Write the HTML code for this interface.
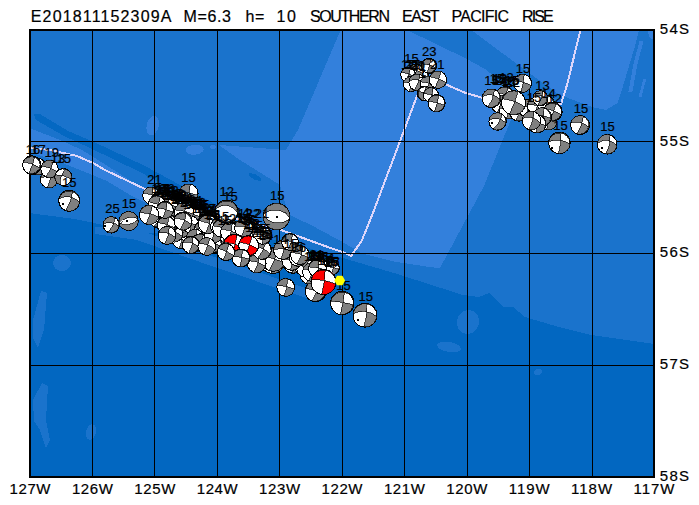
<!DOCTYPE html>
<html><head><meta charset="utf-8"><title>E201811152309A</title>
<style>html,body{margin:0;padding:0;background:#fff;}svg{display:block;}text{font-family:"Liberation Sans", sans-serif;fill:#000;stroke:#000;stroke-width:0.2px;}</style></head>
<body>
<svg width="699" height="505" viewBox="0 0 699 505">
<rect width="699" height="505" fill="#fff"/>
<defs><clipPath id="m"><rect x="29" y="29" width="626" height="449"/></clipPath></defs>
<g clip-path="url(#m)" shape-rendering="crispEdges">
<rect x="29" y="29" width="626" height="449" fill="#1a73cc"/>
<polygon fill="#3380dc" points="341,29 405,29 467,59 485,69 505,85 512,117 484,186 462,227 440,268 431.6,267.3 394.5,261.6 362.7,253.8 341.3,241.3 314.6,227 289.6,214.6 284,200 280,185 240,160 219,145 286,150 298,130"/>
<polygon fill="#3380dc" points="470,29 529,73 560,95 592,107 606,110 617.6,103 622.6,87.4 628.5,67.6 634.5,47.8 639.4,29"/>
<polygon fill="#3380dc" points="639.5,41 643.5,41 637.5,64 632.5,91.5 628.5,91.5 633.5,64"/>
<polygon fill="#3380dc" points="643.5,78.5 646.3,78.5 641.4,97.3 638.4,97.3"/>
<polygon fill="#3380dc" points="647,29 655,29 655,40 650,38"/>
<polygon fill="#3380dc" points="29,128 59,139.5 82,150 106,165 131,181 152,193 150,205 130,195 107,181 85,172 60,162 29,152"/>
<polygon fill="#0468c2" points="34,114 40,114 68,131 94,142 145,166 217,205 205,207 140,172 90,148 64,136 36,120"/>
<polygon fill="#0267c1" points="29,213 75,219 137,232 200,236 280,240 343,258 394,273 463,295 479,297 489,293 503,307 513,307 525,317 559,327 591,335 655,344 655,478 29,478"/>
<polygon fill="#1a73cc" points="95,227 137,229 200,252 305,288 312,300 200,262 137,240 95,234"/>
<ellipse cx="152.7" cy="125.6" rx="6" ry="10" fill="#3380dc" transform="rotate(15 152.7 125.6)"/>
<ellipse cx="194.7" cy="149.7" rx="9" ry="5" fill="#3380dc" transform="rotate(-5 194.7 149.7)"/>
<ellipse cx="213" cy="147" rx="3" ry="2" fill="#3380dc" transform="rotate(0 213 147)"/>
<ellipse cx="255" cy="177" rx="7" ry="2.5" fill="#0468c2" transform="rotate(25 255 177)"/>
<ellipse cx="62" cy="263" rx="9" ry="8" fill="#1a73cc" transform="rotate(0 62 263)"/>
<polygon fill="#1a73cc" points="41,291 47,293 44,330 38,348 33,338 33,320"/>
<polygon fill="#1a73cc" points="42,383 48,386 46,420 50,440 46,448 40,430 34,421 33,400"/>
<ellipse cx="468" cy="322" rx="11" ry="12" fill="#1a73cc" transform="rotate(20 468 322)"/>
<ellipse cx="449" cy="347" rx="12" ry="5" fill="#1a73cc" transform="rotate(10 449 347)"/>
<ellipse cx="466" cy="278" rx="2.5" ry="5" fill="#1a73cc" transform="rotate(15 466 278)"/>
<ellipse cx="538" cy="372" rx="4" ry="3" fill="#1a73cc" transform="rotate(-20 538 372)"/>
<ellipse cx="91" cy="432" rx="5" ry="8" fill="#1a73cc" transform="rotate(15 91 432)"/>
</g>
<g clip-path="url(#m)" fill="none" stroke="#ddd6fa" stroke-width="2" stroke-linejoin="round" shape-rendering="crispEdges">
<polyline points="29,148 50,150 77,156 94,163.5 105,170 128,181 145,189 200,210 280,229.5 291,233.7 305,238.7 325,246 345,253 351,256 361.6,241 372,215.5 417,96 440,82 446,84.5 465,92.8 490,100 561,104 567,85 580.5,30"/>
</g>
<g fill="#000" shape-rendering="crispEdges">
<rect x="92" y="30" width="1" height="447"/><rect x="154" y="30" width="1" height="447"/><rect x="217" y="30" width="1" height="447"/><rect x="279" y="30" width="1" height="447"/><rect x="342" y="30" width="1" height="447"/><rect x="404" y="30" width="1" height="447"/><rect x="467" y="30" width="1" height="447"/><rect x="529" y="30" width="1" height="447"/><rect x="592" y="30" width="1" height="447"/><rect x="30" y="141" width="624" height="1"/><rect x="30" y="253" width="624" height="1"/><rect x="30" y="365" width="624" height="1"/>
</g>
<rect x="30" y="30" width="624" height="447" fill="none" stroke="#000" stroke-width="2" shape-rendering="crispEdges"/>
<g shape-rendering="crispEdges">
<circle cx="37" cy="166.5" r="8.6" fill="#fff" stroke="#000"/><path d="M38.4 158A34.7 34.7 0 0 1 35.6 175A8.6 8.6 0 0 0 38.4 158M28.5 165.2A38.1 38.1 0 0 1 45.5 167.8A8.6 8.6 0 0 0 28.5 165.2" fill="#808080" fill-rule="evenodd" stroke="#000" stroke-width="0.7"/>
<circle cx="31.8" cy="165" r="9.2" fill="#fff" stroke="#000"/><path d="M34.9 156.4A74.9 74.9 0 0 1 28.7 173.6A9.2 9.2 0 0 0 34.9 156.4M23.2 161.9A37.9 37.9 0 0 1 40.4 168.1A9.2 9.2 0 0 0 23.2 161.9" fill="#808080" fill-rule="evenodd" stroke="#000" stroke-width="0.7"/>
<circle cx="49" cy="179.4" r="8.6" fill="#fff" stroke="#000"/><path d="M50.5 170.9A35.4 35.4 0 0 1 47.5 187.9A8.6 8.6 0 0 0 50.5 170.9M40.5 177.9A13.3 13.3 0 0 1 57.5 180.9A8.6 8.6 0 0 0 40.5 177.9" fill="#808080" fill-rule="evenodd" stroke="#000" stroke-width="0.7"/>
<circle cx="49.5" cy="169" r="8.7" fill="#fff" stroke="#000"/><path d="M53.2 161.1A35.8 35.8 0 0 1 45.8 176.9A8.7 8.7 0 0 0 53.2 161.1M41.3 166A35.8 35.8 0 0 1 57.7 172A8.7 8.7 0 0 0 41.3 166" fill="#808080" fill-rule="evenodd" stroke="#000" stroke-width="0.7"/>
<circle cx="63.3" cy="177" r="8.5" fill="#fff" stroke="#000"/><path d="M60.4 185A18.3 18.3 0 0 1 66.2 169A8.5 8.5 0 0 0 60.4 185M55.1 174.8A35 35 0 0 1 71.5 179.2A8.5 8.5 0 0 0 55.1 174.8" fill="#808080" fill-rule="evenodd" stroke="#000" stroke-width="0.7"/>
<circle cx="69.2" cy="200.7" r="10.5" fill="#fff" stroke="#000"/><path d="M72.8 190.8A43.2 43.2 0 0 1 65.6 210.6A10.5 10.5 0 0 0 72.8 190.8M58.9 198.9A16.3 16.3 0 0 1 79.5 202.5A10.5 10.5 0 0 0 58.9 198.9" fill="#808080" fill-rule="evenodd" stroke="#000" stroke-width="0.7"/><rect x="61.6" y="203.3" width="2" height="2" fill="#000"/>
<circle cx="111.3" cy="224.9" r="8.2" fill="#fff" stroke="#000"/><path d="M114.8 217.5A23 23 0 0 1 107.8 232.3A8.2 8.2 0 0 0 114.8 217.5M103.2 223.5A17.7 17.7 0 0 1 119.4 226.3A8.2 8.2 0 0 0 103.2 223.5" fill="#808080" fill-rule="evenodd" stroke="#000" stroke-width="0.7"/><rect x="104.3" y="225.4" width="2" height="2" fill="#000"/>
<circle cx="128.7" cy="221" r="9.5" fill="#fff" stroke="#000"/><path d="M137.9 218.5A14.7 14.7 0 0 1 119.5 223.5A9.5 9.5 0 0 0 137.9 218.5M119.5 223.5A15.5 15.5 0 0 1 137.9 218.5A9.5 9.5 0 0 0 119.5 223.5" fill="#808080" fill-rule="evenodd" stroke="#000" stroke-width="0.7"/><rect x="126.2" y="220" width="2" height="2" fill="#000"/>
<circle cx="206.7" cy="236.7" r="9" fill="#fff" stroke="#000"/><path d="M209.3 228.1A41.2 41.2 0 0 1 204.2 245.3A9 9 0 0 0 209.3 228.1M197.9 235.1A44.9 44.9 0 0 1 215.6 238.4A9 9 0 0 0 197.9 235.1" fill="#808080" fill-rule="evenodd" stroke="#000" stroke-width="0.7"/>
<circle cx="200" cy="220" r="9.5" fill="#fff" stroke="#000"/><path d="M201.4 210.6A46.1 46.1 0 0 1 198.6 229.4A9.5 9.5 0 0 0 201.4 210.6M190.7 218A36.8 36.8 0 0 1 209.3 222A9.5 9.5 0 0 0 190.7 218" fill="#808080" fill-rule="evenodd" stroke="#000" stroke-width="0.7"/>
<circle cx="163" cy="211" r="9" fill="#fff" stroke="#000"/><path d="M166.7 202.8A45.8 45.8 0 0 1 159.3 219.2A9 9 0 0 0 166.7 202.8M154.6 207.8A64.7 64.7 0 0 1 171.4 214.2A9 9 0 0 0 154.6 207.8" fill="#808080" fill-rule="evenodd" stroke="#000" stroke-width="0.7"/>
<circle cx="199" cy="243" r="9" fill="#fff" stroke="#000"/><path d="M200.7 234.2A71.9 71.9 0 0 1 197.3 251.8A9 9 0 0 0 200.7 234.2M190.2 241.1A56.8 56.8 0 0 1 207.8 244.9A9 9 0 0 0 190.2 241.1" fill="#808080" fill-rule="evenodd" stroke="#000" stroke-width="0.7"/>
<circle cx="198" cy="236" r="9.5" fill="#fff" stroke="#000"/><path d="M199.4 226.6A42.1 42.1 0 0 1 196.6 245.4A9.5 9.5 0 0 0 199.4 226.6M188.7 234A51.5 51.5 0 0 1 207.3 238A9.5 9.5 0 0 0 188.7 234" fill="#808080" fill-rule="evenodd" stroke="#000" stroke-width="0.7"/>
<circle cx="178" cy="228" r="9.5" fill="#fff" stroke="#000"/><path d="M180 218.7A31.3 31.3 0 0 1 176 237.3A9.5 9.5 0 0 0 180 218.7M168.7 226.3A35.9 35.9 0 0 1 187.3 229.7A9.5 9.5 0 0 0 168.7 226.3" fill="#808080" fill-rule="evenodd" stroke="#000" stroke-width="0.7"/>
<circle cx="176" cy="209" r="9.5" fill="#fff" stroke="#000"/><path d="M178.8 199.9A31.3 31.3 0 0 1 173.2 218.1A9.5 9.5 0 0 0 178.8 199.9M166.9 206.4A41.2 41.2 0 0 1 185.1 211.6A9.5 9.5 0 0 0 166.9 206.4" fill="#808080" fill-rule="evenodd" stroke="#000" stroke-width="0.7"/>
<circle cx="193" cy="226" r="9" fill="#fff" stroke="#000"/><path d="M195 217.2A41.7 41.7 0 0 1 191 234.8A9 9 0 0 0 195 217.2M184.2 224A56.3 56.3 0 0 1 201.8 228A9 9 0 0 0 184.2 224" fill="#808080" fill-rule="evenodd" stroke="#000" stroke-width="0.7"/>
<circle cx="187.4" cy="234.9" r="9" fill="#fff" stroke="#000"/><path d="M190.8 226.6A62.4 62.4 0 0 1 184 243.2A9 9 0 0 0 190.8 226.6M179.1 231.3A63 63 0 0 1 195.6 238.5A9 9 0 0 0 179.1 231.3" fill="#808080" fill-rule="evenodd" stroke="#000" stroke-width="0.7"/>
<circle cx="182" cy="238" r="9" fill="#fff" stroke="#000"/><path d="M184.5 229.4A29.7 29.7 0 0 1 179.5 246.6A9 9 0 0 0 184.5 229.4M173.4 235.4A65.9 65.9 0 0 1 190.6 240.6A9 9 0 0 0 173.4 235.4" fill="#808080" fill-rule="evenodd" stroke="#000" stroke-width="0.7"/>
<circle cx="180.8" cy="240" r="8.5" fill="#fff" stroke="#000"/><path d="M182.2 231.6A34.8 34.8 0 0 1 179.4 248.4A8.5 8.5 0 0 0 182.2 231.6M172.6 237.9A35.6 35.6 0 0 1 189 242A8.5 8.5 0 0 0 172.6 237.9" fill="#808080" fill-rule="evenodd" stroke="#000" stroke-width="0.7"/>
<circle cx="151.2" cy="195.6" r="8.5" fill="#fff" stroke="#000"/><path d="M152.9 187.3A39.2 39.2 0 0 1 149.5 203.9A8.5 8.5 0 0 0 152.9 187.3M143.1 192.9A39.4 39.4 0 0 1 159.3 198.3A8.5 8.5 0 0 0 143.1 192.9" fill="#808080" fill-rule="evenodd" stroke="#000" stroke-width="0.7"/>
<circle cx="192" cy="216" r="9.5" fill="#fff" stroke="#000"/><path d="M193.5 206.6A35.7 35.7 0 0 1 190.5 225.4A9.5 9.5 0 0 0 193.5 206.6M182.8 213.7A44.2 44.2 0 0 1 201.2 218.3A9.5 9.5 0 0 0 182.8 213.7" fill="#808080" fill-rule="evenodd" stroke="#000" stroke-width="0.7"/>
<circle cx="201.2" cy="231.4" r="8.5" fill="#fff" stroke="#000"/><path d="M203.9 223.3A52.2 52.2 0 0 1 198.6 239.5A8.5 8.5 0 0 0 203.9 223.3M193.3 228.3A44.1 44.1 0 0 1 209.1 234.5A8.5 8.5 0 0 0 193.3 228.3" fill="#808080" fill-rule="evenodd" stroke="#000" stroke-width="0.7"/>
<circle cx="173" cy="216" r="9" fill="#fff" stroke="#000"/><path d="M176.3 207.6A33.6 33.6 0 0 1 169.7 224.4A9 9 0 0 0 176.3 207.6M164.4 213.5A36.6 36.6 0 0 1 181.6 218.5A9 9 0 0 0 164.4 213.5" fill="#808080" fill-rule="evenodd" stroke="#000" stroke-width="0.7"/>
<circle cx="188" cy="232" r="9.5" fill="#fff" stroke="#000"/><path d="M189.8 222.7A42.7 42.7 0 0 1 186.2 241.3A9.5 9.5 0 0 0 189.8 222.7M178.7 230.1A49.6 49.6 0 0 1 197.3 233.9A9.5 9.5 0 0 0 178.7 230.1" fill="#808080" fill-rule="evenodd" stroke="#000" stroke-width="0.7"/>
<circle cx="213.5" cy="228.1" r="9" fill="#fff" stroke="#000"/><path d="M215.2 219.3A41 41 0 0 1 211.8 237A9 9 0 0 0 215.2 219.3M204.7 226.3A37.4 37.4 0 0 1 222.4 229.9A9 9 0 0 0 204.7 226.3" fill="#808080" fill-rule="evenodd" stroke="#000" stroke-width="0.7"/>
<circle cx="200" cy="218.2" r="9" fill="#fff" stroke="#000"/><path d="M203.4 209.8A56 56 0 0 1 196.7 226.6A9 9 0 0 0 203.4 209.8M191.5 215.5A44.9 44.9 0 0 1 208.6 220.9A9 9 0 0 0 191.5 215.5" fill="#808080" fill-rule="evenodd" stroke="#000" stroke-width="0.7"/>
<circle cx="182.2" cy="221.7" r="8.5" fill="#fff" stroke="#000"/><path d="M184.8 213.6A39 39 0 0 1 179.7 229.8A8.5 8.5 0 0 0 184.8 213.6M174.3 218.6A27.4 27.4 0 0 1 190.1 224.9A8.5 8.5 0 0 0 174.3 218.6" fill="#808080" fill-rule="evenodd" stroke="#000" stroke-width="0.7"/>
<circle cx="160" cy="201" r="9" fill="#fff" stroke="#000"/><path d="M163 192.5A56.1 56.1 0 0 1 157 209.5A9 9 0 0 0 163 192.5M151.6 197.9A47.5 47.5 0 0 1 168.4 204.1A9 9 0 0 0 151.6 197.9" fill="#808080" fill-rule="evenodd" stroke="#000" stroke-width="0.7"/>
<circle cx="207.6" cy="222.3" r="9" fill="#fff" stroke="#000"/><path d="M210.9 214A47.2 47.2 0 0 1 204.3 230.7A9 9 0 0 0 210.9 214M199.4 218.7A64.9 64.9 0 0 1 215.8 226A9 9 0 0 0 199.4 218.7" fill="#808080" fill-rule="evenodd" stroke="#000" stroke-width="0.7"/>
<circle cx="180.7" cy="228.9" r="9" fill="#fff" stroke="#000"/><path d="M182 220A47.8 47.8 0 0 1 179.4 237.8A9 9 0 0 0 182 220M171.8 227.6A29.1 29.1 0 0 1 189.6 230.2A9 9 0 0 0 171.8 227.6" fill="#808080" fill-rule="evenodd" stroke="#000" stroke-width="0.7"/>
<circle cx="174.5" cy="233.3" r="8.5" fill="#fff" stroke="#000"/><path d="M176.4 225A28.8 28.8 0 0 1 172.6 241.6A8.5 8.5 0 0 0 176.4 225M166.3 231A34.5 34.5 0 0 1 182.7 235.5A8.5 8.5 0 0 0 166.3 231" fill="#808080" fill-rule="evenodd" stroke="#000" stroke-width="0.7"/>
<circle cx="218" cy="240" r="9.5" fill="#fff" stroke="#000"/><path d="M220.8 230.9A48 48 0 0 1 215.2 249.1A9.5 9.5 0 0 0 220.8 230.9M209.2 236.4A58.8 58.8 0 0 1 226.8 243.6A9.5 9.5 0 0 0 209.2 236.4" fill="#808080" fill-rule="evenodd" stroke="#000" stroke-width="0.7"/>
<circle cx="216" cy="228" r="9.5" fill="#fff" stroke="#000"/><path d="M219.4 219.1A38.8 38.8 0 0 1 212.6 236.9A9.5 9.5 0 0 0 219.4 219.1M207 225.1A31.4 31.4 0 0 1 225 230.9A9.5 9.5 0 0 0 207 225.1" fill="#808080" fill-rule="evenodd" stroke="#000" stroke-width="0.7"/>
<circle cx="191.2" cy="214.3" r="9" fill="#fff" stroke="#000"/><path d="M194 205.7A34 34 0 0 1 188.4 222.8A9 9 0 0 0 194 205.7M182.5 211.9A58.5 58.5 0 0 1 199.9 216.7A9 9 0 0 0 182.5 211.9" fill="#808080" fill-rule="evenodd" stroke="#000" stroke-width="0.7"/>
<circle cx="213.4" cy="244.6" r="8.5" fill="#fff" stroke="#000"/><path d="M216.2 236.6A36 36 0 0 1 210.7 252.7A8.5 8.5 0 0 0 216.2 236.6M205.6 241.4A34.2 34.2 0 0 1 221.3 247.9A8.5 8.5 0 0 0 205.6 241.4" fill="#808080" fill-rule="evenodd" stroke="#000" stroke-width="0.7"/>
<circle cx="215.7" cy="239.5" r="9" fill="#fff" stroke="#000"/><path d="M218.4 231A42 42 0 0 1 213 248.1A9 9 0 0 0 218.4 231M207.3 236.4A58.7 58.7 0 0 1 224.1 242.7A9 9 0 0 0 207.3 236.4" fill="#808080" fill-rule="evenodd" stroke="#000" stroke-width="0.7"/>
<circle cx="208" cy="238" r="9.5" fill="#fff" stroke="#000"/><path d="M210 228.7A34.5 34.5 0 0 1 206 247.3A9.5 9.5 0 0 0 210 228.7M198.9 235.1A66.5 66.5 0 0 1 217.1 240.9A9.5 9.5 0 0 0 198.9 235.1" fill="#808080" fill-rule="evenodd" stroke="#000" stroke-width="0.7"/>
<circle cx="213" cy="244" r="9" fill="#fff" stroke="#000"/><path d="M215.5 235.4A29.1 29.1 0 0 1 210.5 252.6A9 9 0 0 0 215.5 235.4M204.4 241.4A31.1 31.1 0 0 1 221.6 246.6A9 9 0 0 0 204.4 241.4" fill="#808080" fill-rule="evenodd" stroke="#000" stroke-width="0.7"/>
<circle cx="159.3" cy="206.6" r="8.5" fill="#fff" stroke="#000"/><path d="M160 198.2A38.7 38.7 0 0 1 158.5 215.1A8.5 8.5 0 0 0 160 198.2M150.9 205.2A45.7 45.7 0 0 1 167.6 208.1A8.5 8.5 0 0 0 150.9 205.2" fill="#808080" fill-rule="evenodd" stroke="#000" stroke-width="0.7"/>
<circle cx="173.5" cy="217.2" r="8.5" fill="#fff" stroke="#000"/><path d="M176.2 209.1A63.1 63.1 0 0 1 170.8 225.3A8.5 8.5 0 0 0 176.2 209.1M165.4 214.6A29 29 0 0 1 181.6 219.8A8.5 8.5 0 0 0 165.4 214.6" fill="#808080" fill-rule="evenodd" stroke="#000" stroke-width="0.7"/>
<circle cx="174" cy="233" r="9" fill="#fff" stroke="#000"/><path d="M177.1 224.5A40.5 40.5 0 0 1 170.9 241.5A9 9 0 0 0 177.1 224.5M165.6 229.9A31 31 0 0 1 182.4 236.1A9 9 0 0 0 165.6 229.9" fill="#808080" fill-rule="evenodd" stroke="#000" stroke-width="0.7"/>
<circle cx="190.4" cy="224.3" r="8.5" fill="#fff" stroke="#000"/><path d="M191.3 215.8A38.4 38.4 0 0 1 189.4 232.7A8.5 8.5 0 0 0 191.3 215.8M182.1 222.5A31.4 31.4 0 0 1 198.7 226.1A8.5 8.5 0 0 0 182.1 222.5" fill="#808080" fill-rule="evenodd" stroke="#000" stroke-width="0.7"/>
<circle cx="203" cy="230" r="9" fill="#fff" stroke="#000"/><path d="M205.9 221.5A59.2 59.2 0 0 1 200.1 238.5A9 9 0 0 0 205.9 221.5M194.3 227.8A37.2 37.2 0 0 1 211.7 232.2A9 9 0 0 0 194.3 227.8" fill="#808080" fill-rule="evenodd" stroke="#000" stroke-width="0.7"/>
<circle cx="195.3" cy="238.3" r="9" fill="#fff" stroke="#000"/><path d="M196.1 229.3A35.5 35.5 0 0 1 194.4 247.3A9 9 0 0 0 196.1 229.3M186.4 236.9A41.7 41.7 0 0 1 204.2 239.7A9 9 0 0 0 186.4 236.9" fill="#808080" fill-rule="evenodd" stroke="#000" stroke-width="0.7"/>
<circle cx="200.2" cy="242.2" r="8.5" fill="#fff" stroke="#000"/><path d="M203.4 234.4A63.4 63.4 0 0 1 196.9 250.1A8.5 8.5 0 0 0 203.4 234.4M192.1 239.7A64.8 64.8 0 0 1 208.3 244.7A8.5 8.5 0 0 0 192.1 239.7" fill="#808080" fill-rule="evenodd" stroke="#000" stroke-width="0.7"/>
<circle cx="168" cy="205" r="9.5" fill="#fff" stroke="#000"/><path d="M169.4 195.6A74 74 0 0 1 166.6 214.4A9.5 9.5 0 0 0 169.4 195.6M158.7 203.1A70.2 70.2 0 0 1 177.3 206.9A9.5 9.5 0 0 0 158.7 203.1" fill="#808080" fill-rule="evenodd" stroke="#000" stroke-width="0.7"/>
<circle cx="212.6" cy="233.6" r="8.5" fill="#fff" stroke="#000"/><path d="M214.9 225.4A35.5 35.5 0 0 1 210.2 241.7A8.5 8.5 0 0 0 214.9 225.4M204.2 232.1A48.1 48.1 0 0 1 220.9 235A8.5 8.5 0 0 0 204.2 232.1" fill="#808080" fill-rule="evenodd" stroke="#000" stroke-width="0.7"/>
<circle cx="160" cy="216.6" r="9" fill="#fff" stroke="#000"/><path d="M162.7 208A40.8 40.8 0 0 1 157.2 225.2A9 9 0 0 0 162.7 208M151.2 214.6A40.2 40.2 0 0 1 168.7 218.7A9 9 0 0 0 151.2 214.6" fill="#808080" fill-rule="evenodd" stroke="#000" stroke-width="0.7"/>
<circle cx="158" cy="218" r="9.5" fill="#fff" stroke="#000"/><path d="M161.9 209.4A31.9 31.9 0 0 1 154.1 226.6A9.5 9.5 0 0 0 161.9 209.4M149.3 214.1A58.6 58.6 0 0 1 166.7 221.9A9.5 9.5 0 0 0 149.3 214.1" fill="#808080" fill-rule="evenodd" stroke="#000" stroke-width="0.7"/>
<circle cx="213" cy="234" r="9" fill="#fff" stroke="#000"/><path d="M215.1 225.2A45.3 45.3 0 0 1 210.9 242.8A9 9 0 0 0 215.1 225.2M204.2 232A35.8 35.8 0 0 1 221.8 236A9 9 0 0 0 204.2 232" fill="#808080" fill-rule="evenodd" stroke="#000" stroke-width="0.7"/>
<circle cx="168" cy="224" r="9.5" fill="#fff" stroke="#000"/><path d="M169.9 214.7A52.3 52.3 0 0 1 166.1 233.3A9.5 9.5 0 0 0 169.9 214.7M158.7 222.2A35 35 0 0 1 177.3 225.8A9.5 9.5 0 0 0 158.7 222.2" fill="#808080" fill-rule="evenodd" stroke="#000" stroke-width="0.7"/>
<circle cx="157" cy="205" r="9" fill="#fff" stroke="#000"/><path d="M160.5 196.7A46.5 46.5 0 0 1 153.5 213.3A9 9 0 0 0 160.5 196.7M148.5 201.9A60.2 60.2 0 0 1 165.5 208.1A9 9 0 0 0 148.5 201.9" fill="#808080" fill-rule="evenodd" stroke="#000" stroke-width="0.7"/>
<circle cx="166.3" cy="225.1" r="9" fill="#fff" stroke="#000"/><path d="M168.9 216.5A63.7 63.7 0 0 1 163.8 233.8A9 9 0 0 0 168.9 216.5M157.8 222.4A58.2 58.2 0 0 1 174.9 227.9A9 9 0 0 0 157.8 222.4" fill="#808080" fill-rule="evenodd" stroke="#000" stroke-width="0.7"/>
<circle cx="208" cy="224" r="9.5" fill="#fff" stroke="#000"/><path d="M210.5 214.8A36.8 36.8 0 0 1 205.5 233.2A9.5 9.5 0 0 0 210.5 214.8M199.2 220.5A47.3 47.3 0 0 1 216.8 227.5A9.5 9.5 0 0 0 199.2 220.5" fill="#808080" fill-rule="evenodd" stroke="#000" stroke-width="0.7"/>
<circle cx="184" cy="212" r="9.5" fill="#fff" stroke="#000"/><path d="M186.1 202.7A67.4 67.4 0 0 1 181.9 221.3A9.5 9.5 0 0 0 186.1 202.7M174.7 209.9A50.4 50.4 0 0 1 193.3 214.1A9.5 9.5 0 0 0 174.7 209.9" fill="#808080" fill-rule="evenodd" stroke="#000" stroke-width="0.7"/>
<circle cx="164.9" cy="209.9" r="8.5" fill="#fff" stroke="#000"/><path d="M167.2 201.7A43.1 43.1 0 0 1 162.6 218.1A8.5 8.5 0 0 0 167.2 201.7M156.7 207.8A47.2 47.2 0 0 1 173.1 212A8.5 8.5 0 0 0 156.7 207.8" fill="#808080" fill-rule="evenodd" stroke="#000" stroke-width="0.7"/>
<circle cx="183" cy="221" r="9" fill="#fff" stroke="#000"/><path d="M186 212.5A30.3 30.3 0 0 1 180 229.5A9 9 0 0 0 186 212.5M174.6 217.9A31.1 31.1 0 0 1 191.4 224.1A9 9 0 0 0 174.6 217.9" fill="#808080" fill-rule="evenodd" stroke="#000" stroke-width="0.7"/>
<circle cx="188.6" cy="193.5" r="9.5" fill="#fff" stroke="#000"/><path d="M190.2 184.1A77.3 77.3 0 0 1 187 202.9A9.5 9.5 0 0 0 190.2 184.1M179.2 191.9A77.3 77.3 0 0 1 198 195.1A9.5 9.5 0 0 0 179.2 191.9" fill="#808080" fill-rule="evenodd" stroke="#000" stroke-width="0.7"/>
<circle cx="149.2" cy="214.9" r="9.7" fill="#fff" stroke="#000"/><path d="M152.4 205.7A78.9 78.9 0 0 1 146 224.1A9.7 9.7 0 0 0 152.4 205.7M139.8 212.4A39.9 39.9 0 0 1 158.6 217.4A9.7 9.7 0 0 0 139.8 212.4" fill="#808080" fill-rule="evenodd" stroke="#000" stroke-width="0.7"/>
<circle cx="167" cy="235.4" r="9" fill="#fff" stroke="#000"/><path d="M169.3 226.7A37.1 37.1 0 0 1 164.7 244.1A9 9 0 0 0 169.3 226.7M158.3 233.1A19.4 19.4 0 0 1 175.7 237.7A9 9 0 0 0 158.3 233.1" fill="#808080" fill-rule="evenodd" stroke="#000" stroke-width="0.7"/>
<circle cx="191" cy="245" r="8.5" fill="#fff" stroke="#000"/><path d="M193.2 236.8A35 35 0 0 1 188.8 253.2A8.5 8.5 0 0 0 193.2 236.8M182.8 242.8A18.3 18.3 0 0 1 199.2 247.2A8.5 8.5 0 0 0 182.8 242.8" fill="#808080" fill-rule="evenodd" stroke="#000" stroke-width="0.7"/>
<circle cx="206.8" cy="246.5" r="8.8" fill="#fff" stroke="#000"/><path d="M209.8 238.2A71.6 71.6 0 0 1 203.8 254.8A8.8 8.8 0 0 0 209.8 238.2M198.5 243.5A24.6 24.6 0 0 1 215.1 249.5A8.8 8.8 0 0 0 198.5 243.5" fill="#808080" fill-rule="evenodd" stroke="#000" stroke-width="0.7"/>
<circle cx="285.7" cy="287.4" r="8.9" fill="#fff" stroke="#000"/><path d="M287.3 278.6A35.7 35.7 0 0 1 284.1 296.2A8.9 8.9 0 0 0 287.3 278.6M277 285.5A35.8 35.8 0 0 1 294.4 289.3A8.9 8.9 0 0 0 277 285.5" fill="#808080" fill-rule="evenodd" stroke="#000" stroke-width="0.7"/>
<circle cx="255.3" cy="260.5" r="8.9" fill="#fff" stroke="#000"/><path d="M258.2 252.1A29 29 0 0 1 252.4 268.9A8.9 8.9 0 0 0 258.2 252.1M246.7 258.3A54 54 0 0 1 263.9 262.7A8.9 8.9 0 0 0 246.7 258.3" fill="#808080" fill-rule="evenodd" stroke="#000" stroke-width="0.7"/>
<circle cx="293.3" cy="262.8" r="10.4" fill="#fff" stroke="#000"/><path d="M294.8 252.5A35.8 35.8 0 0 1 291.8 273.1A10.4 10.4 0 0 0 294.8 252.5M283.1 260.5A69.3 69.3 0 0 1 303.5 265.1A10.4 10.4 0 0 0 283.1 260.5" fill="#808080" fill-rule="evenodd" stroke="#000" stroke-width="0.7"/>
<circle cx="283" cy="249" r="8.9" fill="#fff" stroke="#000"/><path d="M287 241A31.5 31.5 0 0 1 279 256.9A8.9 8.9 0 0 0 287 241M274.5 246.1A36.6 36.6 0 0 1 291.4 251.9A8.9 8.9 0 0 0 274.5 246.1" fill="#808080" fill-rule="evenodd" stroke="#000" stroke-width="0.7"/>
<circle cx="318" cy="266" r="9.4" fill="#fff" stroke="#000"/><path d="M321.3 257.2A70.3 70.3 0 0 1 314.7 274.8A9.4 9.4 0 0 0 321.3 257.2M309.3 262.4A47.8 47.8 0 0 1 326.7 269.6A9.4 9.4 0 0 0 309.3 262.4" fill="#808080" fill-rule="evenodd" stroke="#000" stroke-width="0.7"/>
<circle cx="315.6" cy="291.3" r="10.4" fill="#fff" stroke="#000"/><path d="M319 281.5A43.7 43.7 0 0 1 312.2 301.1A10.4 10.4 0 0 0 319 281.5M305.6 288.3A79 79 0 0 1 325.6 294.3A10.4 10.4 0 0 0 305.6 288.3" fill="#808080" fill-rule="evenodd" stroke="#000" stroke-width="0.7"/>
<circle cx="303.5" cy="266.6" r="8.9" fill="#fff" stroke="#000"/><path d="M304.8 257.8A72 72 0 0 1 302.3 275.4A8.9 8.9 0 0 0 304.8 257.8M294.7 265.2A47.7 47.7 0 0 1 312.3 267.9A8.9 8.9 0 0 0 294.7 265.2" fill="#808080" fill-rule="evenodd" stroke="#000" stroke-width="0.7"/>
<circle cx="219.5" cy="226.6" r="8.9" fill="#fff" stroke="#000"/><path d="M222.7 218.3A68.7 68.7 0 0 1 216.3 234.9A8.9 8.9 0 0 0 222.7 218.3M211.5 222.8A53.9 53.9 0 0 1 227.5 230.5A8.9 8.9 0 0 0 211.5 222.8" fill="#808080" fill-rule="evenodd" stroke="#000" stroke-width="0.7"/>
<circle cx="272.8" cy="261" r="12.4" fill="#fff" stroke="#000"/><path d="M274.7 248.7A89.1 89.1 0 0 1 270.9 273.3A12.4 12.4 0 0 0 274.7 248.7M260.5 259.2A49.9 49.9 0 0 1 285.1 262.8A12.4 12.4 0 0 0 260.5 259.2" fill="#808080" fill-rule="evenodd" stroke="#000" stroke-width="0.7"/>
<circle cx="222" cy="228" r="9.4" fill="#fff" stroke="#000"/><path d="M224.1 218.8A66.9 66.9 0 0 1 219.9 237.2A9.4 9.4 0 0 0 224.1 218.8M212.9 225.8A62.3 62.3 0 0 1 231.1 230.2A9.4 9.4 0 0 0 212.9 225.8" fill="#808080" fill-rule="evenodd" stroke="#000" stroke-width="0.7"/>
<circle cx="290.2" cy="242.1" r="7.9" fill="#fff" stroke="#000"/><path d="M292.3 234.5A43.7 43.7 0 0 1 288.1 249.7A7.9 7.9 0 0 0 292.3 234.5M282.7 239.7A56.7 56.7 0 0 1 297.8 244.5A7.9 7.9 0 0 0 282.7 239.7" fill="#808080" fill-rule="evenodd" stroke="#000" stroke-width="0.7"/>
<circle cx="260" cy="236" r="9.4" fill="#fff" stroke="#000"/><path d="M264 227.5A61.4 61.4 0 0 1 256 244.5A9.4 9.4 0 0 0 264 227.5M251.5 232A34.5 34.5 0 0 1 268.5 240A9.4 9.4 0 0 0 251.5 232" fill="#808080" fill-rule="evenodd" stroke="#000" stroke-width="0.7"/>
<circle cx="309.1" cy="275" r="8.9" fill="#fff" stroke="#000"/><path d="M311.9 266.5A34.1 34.1 0 0 1 306.2 283.4A8.9 8.9 0 0 0 311.9 266.5M300.5 272.4A50 50 0 0 1 317.6 277.5A8.9 8.9 0 0 0 300.5 272.4" fill="#808080" fill-rule="evenodd" stroke="#000" stroke-width="0.7"/>
<circle cx="306" cy="268" r="9.4" fill="#fff" stroke="#000"/><path d="M308.3 258.9A33.6 33.6 0 0 1 303.7 277.1A9.4 9.4 0 0 0 308.3 258.9M297.1 265A42.4 42.4 0 0 1 314.9 271A9.4 9.4 0 0 0 297.1 265" fill="#808080" fill-rule="evenodd" stroke="#000" stroke-width="0.7"/>
<circle cx="260.7" cy="251.8" r="8.9" fill="#fff" stroke="#000"/><path d="M263 243.2A40.4 40.4 0 0 1 258.3 260.4A8.9 8.9 0 0 0 263 243.2M252.2 249.2A33.4 33.4 0 0 1 269.2 254.4A8.9 8.9 0 0 0 252.2 249.2" fill="#808080" fill-rule="evenodd" stroke="#000" stroke-width="0.7"/>
<circle cx="312" cy="272" r="9.4" fill="#fff" stroke="#000"/><path d="M315 263.1A74.6 74.6 0 0 1 309 280.9A9.4 9.4 0 0 0 315 263.1M303 269.2A34.2 34.2 0 0 1 321 274.8A9.4 9.4 0 0 0 303 269.2" fill="#808080" fill-rule="evenodd" stroke="#000" stroke-width="0.7"/>
<circle cx="232.4" cy="230.1" r="8.9" fill="#fff" stroke="#000"/><path d="M235.8 221.8A36.2 36.2 0 0 1 229.1 238.3A8.9 8.9 0 0 0 235.8 221.8M223.8 227.8A67.9 67.9 0 0 1 241 232.4A8.9 8.9 0 0 0 223.8 227.8" fill="#808080" fill-rule="evenodd" stroke="#000" stroke-width="0.7"/>
<circle cx="273.4" cy="259.3" r="11.9" fill="#fff" stroke="#000"/><path d="M277.7 248.2A60.8 60.8 0 0 1 269.2 270.5A11.9 11.9 0 0 0 277.7 248.2M262.1 255.9A89.6 89.6 0 0 1 284.8 262.8A11.9 11.9 0 0 0 262.1 255.9" fill="#808080" fill-rule="evenodd" stroke="#000" stroke-width="0.7"/>
<circle cx="291.9" cy="260.5" r="9.9" fill="#fff" stroke="#000"/><path d="M293.2 250.7A58.1 58.1 0 0 1 290.6 270.3A9.9 9.9 0 0 0 293.2 250.7M282 259.6A46.9 46.9 0 0 1 301.7 261.5A9.9 9.9 0 0 0 282 259.6" fill="#808080" fill-rule="evenodd" stroke="#000" stroke-width="0.7"/>
<circle cx="254.1" cy="233.1" r="8.9" fill="#fff" stroke="#000"/><path d="M255.9 224.3A30.3 30.3 0 0 1 252.3 241.8A8.9 8.9 0 0 0 255.9 224.3M245.2 232.3A39.7 39.7 0 0 1 263 233.8A8.9 8.9 0 0 0 245.2 232.3" fill="#808080" fill-rule="evenodd" stroke="#000" stroke-width="0.7"/>
<circle cx="245.5" cy="229.9" r="8.9" fill="#fff" stroke="#000"/><path d="M248.4 221.5A32.1 32.1 0 0 1 242.7 238.3A8.9 8.9 0 0 0 248.4 221.5M237.3 226.6A52.8 52.8 0 0 1 253.8 233.2A8.9 8.9 0 0 0 237.3 226.6" fill="#808080" fill-rule="evenodd" stroke="#000" stroke-width="0.7"/>
<circle cx="256.7" cy="263.4" r="9.4" fill="#fff" stroke="#000"/><path d="M259.4 254.4A38 38 0 0 1 254 272.4A9.4 9.4 0 0 0 259.4 254.4M247.8 260.4A33.1 33.1 0 0 1 265.6 266.4A9.4 9.4 0 0 0 247.8 260.4" fill="#808080" fill-rule="evenodd" stroke="#000" stroke-width="0.7"/>
<circle cx="283" cy="250" r="9.4" fill="#fff" stroke="#000"/><path d="M284.9 240.8A52.6 52.6 0 0 1 281.1 259.2A9.4 9.4 0 0 0 284.9 240.8M273.6 249.2A38.5 38.5 0 0 1 292.4 250.8A9.4 9.4 0 0 0 273.6 249.2" fill="#808080" fill-rule="evenodd" stroke="#000" stroke-width="0.7"/>
<circle cx="298.1" cy="257.4" r="8.9" fill="#fff" stroke="#000"/><path d="M299.8 248.6A47.6 47.6 0 0 1 296.4 266.1A8.9 8.9 0 0 0 299.8 248.6M289.4 255.6A34.8 34.8 0 0 1 306.8 259.1A8.9 8.9 0 0 0 289.4 255.6" fill="#808080" fill-rule="evenodd" stroke="#000" stroke-width="0.7"/>
<circle cx="230" cy="232" r="9.4" fill="#fff" stroke="#000"/><path d="M232.3 222.9A43.5 43.5 0 0 1 227.7 241.1A9.4 9.4 0 0 0 232.3 222.9M221 229.3A30.6 30.6 0 0 1 239 234.7A9.4 9.4 0 0 0 221 229.3" fill="#808080" fill-rule="evenodd" stroke="#000" stroke-width="0.7"/>
<circle cx="317.5" cy="268.5" r="8.9" fill="#fff" stroke="#000"/><path d="M318.5 259.6A41 41 0 0 1 316.5 277.3A8.9 8.9 0 0 0 318.5 259.6M308.7 266.9A49.9 49.9 0 0 1 326.3 270.1A8.9 8.9 0 0 0 308.7 266.9" fill="#808080" fill-rule="evenodd" stroke="#000" stroke-width="0.7"/>
<circle cx="290" cy="242" r="8.4" fill="#fff" stroke="#000"/><path d="M292.4 233.9A27 27 0 0 1 287.6 250.1A8.4 8.4 0 0 0 292.4 233.9M281.9 239.8A45.8 45.8 0 0 1 298.1 244.2A8.4 8.4 0 0 0 281.9 239.8" fill="#808080" fill-rule="evenodd" stroke="#000" stroke-width="0.7"/>
<circle cx="252" cy="232" r="9.4" fill="#fff" stroke="#000"/><path d="M253.3 222.7A52.5 52.5 0 0 1 250.7 241.3A9.4 9.4 0 0 0 253.3 222.7M242.6 231.2A42.6 42.6 0 0 1 261.4 232.8A9.4 9.4 0 0 0 242.6 231.2" fill="#808080" fill-rule="evenodd" stroke="#000" stroke-width="0.7"/>
<circle cx="262" cy="250" r="9.4" fill="#fff" stroke="#000"/><path d="M266.2 241.6A47.6 47.6 0 0 1 257.8 258.4A9.4 9.4 0 0 0 266.2 241.6M253.6 245.8A31.4 31.4 0 0 1 270.4 254.2A9.4 9.4 0 0 0 253.6 245.8" fill="#808080" fill-rule="evenodd" stroke="#000" stroke-width="0.7"/>
<circle cx="262.7" cy="235.4" r="8.9" fill="#fff" stroke="#000"/><path d="M263.4 226.6A33.5 33.5 0 0 1 261.9 244.3A8.9 8.9 0 0 0 263.4 226.6M253.8 234.5A46.2 46.2 0 0 1 271.5 236.4A8.9 8.9 0 0 0 253.8 234.5" fill="#808080" fill-rule="evenodd" stroke="#000" stroke-width="0.7"/>
<circle cx="333" cy="268" r="6.4" fill="#fff" stroke="#000"/><path d="M334.9 261.9A36.1 36.1 0 0 1 331.1 274.1A6.4 6.4 0 0 0 334.9 261.9M326.8 266.5A33.1 33.1 0 0 1 339.2 269.5A6.4 6.4 0 0 0 326.8 266.5" fill="#808080" fill-rule="evenodd" stroke="#000" stroke-width="0.7"/>
<circle cx="244" cy="228" r="9.4" fill="#fff" stroke="#000"/><path d="M246.9 219.1A47.2 47.2 0 0 1 241.1 236.9A9.4 9.4 0 0 0 246.9 219.1M234.8 226A31 31 0 0 1 253.2 230A9.4 9.4 0 0 0 234.8 226" fill="#808080" fill-rule="evenodd" stroke="#000" stroke-width="0.7"/>
<circle cx="300" cy="255" r="9.4" fill="#fff" stroke="#000"/><path d="M302.8 246A35.9 35.9 0 0 1 297.2 264A9.4 9.4 0 0 0 302.8 246M291 252.2A48.1 48.1 0 0 1 309 257.8A9.4 9.4 0 0 0 291 252.2" fill="#808080" fill-rule="evenodd" stroke="#000" stroke-width="0.7"/>
<circle cx="226.4" cy="211.7" r="11.6" fill="#fff" stroke="#000"/><path d="M215 209.7A13.9 13.9 0 0 1 237.8 213.7A11.6 11.6 0 0 0 215 209.7M237.8 213.7A11.7 11.7 0 0 1 215 209.7A11.6 11.6 0 0 0 237.8 213.7" fill="#808080" fill-rule="evenodd" stroke="#000" stroke-width="0.7"/>
<circle cx="276.5" cy="216.5" r="13.3" fill="#fff" stroke="#000"/><path d="M289.7 218.4A17 17 0 0 1 263.3 214.6A13.3 13.3 0 0 0 289.7 218.4M263.3 214.6A17 17 0 0 1 289.7 218.4A13.3 13.3 0 0 0 263.3 214.6" fill="#808080" fill-rule="evenodd" stroke="#000" stroke-width="0.7"/><rect x="275.5" y="216" width="2" height="2" fill="#000"/>
<circle cx="234.4" cy="244.7" r="10.7" fill="#fff" stroke="#000"/><path d="M237.2 234.4A87.1 87.1 0 0 1 231.6 255A10.7 10.7 0 0 0 237.2 234.4M224.1 241.9A87.1 87.1 0 0 1 244.7 247.5A10.7 10.7 0 0 0 224.1 241.9" fill="#ff0000" fill-rule="evenodd" stroke="#000" stroke-width="0.7"/>
<circle cx="248.7" cy="245.6" r="10" fill="#fff" stroke="#000"/><path d="M252.1 236.2A81.4 81.4 0 0 1 245.3 255A10 10 0 0 0 252.1 236.2M239.3 242.2A41.2 41.2 0 0 1 258.1 249A10 10 0 0 0 239.3 242.2" fill="#ff0000" fill-rule="evenodd" stroke="#000" stroke-width="0.7"/>
<circle cx="241" cy="258" r="9" fill="#fff" stroke="#000"/><path d="M242.2 249.1A48.5 48.5 0 0 1 239.8 266.9A9 9 0 0 0 242.2 249.1M232.1 256.8A45 45 0 0 1 249.9 259.2A9 9 0 0 0 232.1 256.8" fill="#808080" fill-rule="evenodd" stroke="#000" stroke-width="0.7"/>
<circle cx="226" cy="252" r="8.5" fill="#fff" stroke="#000"/><path d="M228.9 244A67.9 67.9 0 0 1 223.1 260A8.5 8.5 0 0 0 228.9 244M218.2 248.5A49.4 49.4 0 0 1 233.8 255.5A8.5 8.5 0 0 0 218.2 248.5" fill="#808080" fill-rule="evenodd" stroke="#000" stroke-width="0.7"/>
<circle cx="323.5" cy="282" r="12.5" fill="#fff" stroke="#000"/><path d="M325.2 269.6A101.7 101.7 0 0 1 321.8 294.4A12.5 12.5 0 0 0 325.2 269.6M311.2 279.8A51.5 51.5 0 0 1 335.8 284.2A12.5 12.5 0 0 0 311.2 279.8" fill="#ff0000" fill-rule="evenodd" stroke="#000" stroke-width="0.7"/>
<circle cx="342.3" cy="303" r="11.7" fill="#fff" stroke="#000"/><path d="M344.3 291.5A95.2 95.2 0 0 1 340.3 314.5A11.7 11.7 0 0 0 344.3 291.5M330.8 301A95.2 95.2 0 0 1 353.8 305A11.7 11.7 0 0 0 330.8 301" fill="#808080" fill-rule="evenodd" stroke="#000" stroke-width="0.7"/>
<circle cx="365" cy="315.2" r="11.9" fill="#fff" stroke="#000"/><path d="M366 303.3A49 49 0 0 1 364 327.1A11.9 11.9 0 0 0 366 303.3M353.2 313.7A21.3 21.3 0 0 1 376.8 316.7A11.9 11.9 0 0 0 353.2 313.7" fill="#808080" fill-rule="evenodd" stroke="#000" stroke-width="0.7"/><rect x="357" y="319.2" width="2" height="2" fill="#000"/>
<circle cx="421" cy="76" r="7.5" fill="#fff" stroke="#000"/><path d="M421.9 68.6A26 26 0 0 1 420.1 83.4A7.5 7.5 0 0 0 421.9 68.6M413.5 75.4A25.1 25.1 0 0 1 428.5 76.6A7.5 7.5 0 0 0 413.5 75.4" fill="#808080" fill-rule="evenodd" stroke="#000" stroke-width="0.7"/>
<circle cx="415.8" cy="71.3" r="7.5" fill="#fff" stroke="#000"/><path d="M418.6 64.3A42.3 42.3 0 0 1 413 78.3A7.5 7.5 0 0 0 418.6 64.3M408.6 69.3A30 30 0 0 1 423 73.3A7.5 7.5 0 0 0 408.6 69.3" fill="#808080" fill-rule="evenodd" stroke="#000" stroke-width="0.7"/>
<circle cx="408.2" cy="74.8" r="7.5" fill="#fff" stroke="#000"/><path d="M410.8 67.8A61 61 0 0 1 405.6 81.8A7.5 7.5 0 0 0 410.8 67.8M401.2 72.2A30.9 30.9 0 0 1 415.2 77.4A7.5 7.5 0 0 0 401.2 72.2" fill="#808080" fill-rule="evenodd" stroke="#000" stroke-width="0.7"/>
<circle cx="429" cy="65.8" r="7.5" fill="#fff" stroke="#000"/><path d="M430.9 58.6A61 61 0 0 1 427.1 73A7.5 7.5 0 0 0 430.9 58.6M421.8 63.9A30.9 30.9 0 0 1 436.2 67.7A7.5 7.5 0 0 0 421.8 63.9" fill="#808080" fill-rule="evenodd" stroke="#000" stroke-width="0.7"/>
<circle cx="411" cy="84" r="7.5" fill="#fff" stroke="#000"/><path d="M412.9 76.7A24.4 24.4 0 0 1 409.1 91.3A7.5 7.5 0 0 0 412.9 76.7M403.8 81.9A40.8 40.8 0 0 1 418.2 86.1A7.5 7.5 0 0 0 403.8 81.9" fill="#808080" fill-rule="evenodd" stroke="#000" stroke-width="0.7"/>
<circle cx="417.2" cy="82.4" r="8.3" fill="#fff" stroke="#000"/><path d="M420 74.6A34.2 34.2 0 0 1 414.4 90.2A8.3 8.3 0 0 0 420 74.6M409 81A14.8 14.8 0 0 1 425.4 83.8A8.3 8.3 0 0 0 409 81" fill="#808080" fill-rule="evenodd" stroke="#000" stroke-width="0.7"/>
<circle cx="428" cy="84" r="8" fill="#fff" stroke="#000"/><path d="M431 76.6A38.9 38.9 0 0 1 425 91.4A8 8 0 0 0 431 76.6M420.3 81.8A29.8 29.8 0 0 1 435.7 86.2A8 8 0 0 0 420.3 81.8" fill="#808080" fill-rule="evenodd" stroke="#000" stroke-width="0.7"/>
<circle cx="424.8" cy="93.5" r="7.5" fill="#fff" stroke="#000"/><path d="M422.9 100.7A30.9 30.9 0 0 1 426.7 86.3A7.5 7.5 0 0 0 422.9 100.7M417.6 91.6A30.9 30.9 0 0 1 432 95.4A7.5 7.5 0 0 0 417.6 91.6" fill="#808080" fill-rule="evenodd" stroke="#000" stroke-width="0.7"/>
<circle cx="431" cy="95" r="7.5" fill="#fff" stroke="#000"/><path d="M433.1 87.8A32.7 32.7 0 0 1 428.9 102.2A7.5 7.5 0 0 0 433.1 87.8M423.6 93.6A54.1 54.1 0 0 1 438.4 96.4A7.5 7.5 0 0 0 423.6 93.6" fill="#808080" fill-rule="evenodd" stroke="#000" stroke-width="0.7"/>
<circle cx="438" cy="79.7" r="8.6" fill="#fff" stroke="#000"/><path d="M440.9 71.6A70 70 0 0 1 435.1 87.8A8.6 8.6 0 0 0 440.9 71.6M429.9 76.8A35.4 35.4 0 0 1 446.1 82.6A8.6 8.6 0 0 0 429.9 76.8" fill="#808080" fill-rule="evenodd" stroke="#000" stroke-width="0.7"/>
<circle cx="436.6" cy="103.2" r="8.6" fill="#fff" stroke="#000"/><path d="M438.8 94.9A70 70 0 0 1 434.4 111.5A8.6 8.6 0 0 0 438.8 94.9M428.3 101A70 70 0 0 1 444.9 105.4A8.6 8.6 0 0 0 428.3 101" fill="#808080" fill-rule="evenodd" stroke="#000" stroke-width="0.7"/>
<circle cx="504.7" cy="95.6" r="9" fill="#fff" stroke="#000"/><path d="M508 87.2A37.4 37.4 0 0 1 501.4 104A9 9 0 0 0 508 87.2M496.2 92.7A31.2 31.2 0 0 1 513.2 98.5A9 9 0 0 0 496.2 92.7" fill="#808080" fill-rule="evenodd" stroke="#000" stroke-width="0.7"/>
<circle cx="500" cy="104" r="9" fill="#fff" stroke="#000"/><path d="M502.8 95.4A39.4 39.4 0 0 1 497.2 112.6A9 9 0 0 0 502.8 95.4M491.2 102.1A44.3 44.3 0 0 1 508.8 105.9A9 9 0 0 0 491.2 102.1" fill="#808080" fill-rule="evenodd" stroke="#000" stroke-width="0.7"/>
<circle cx="491.4" cy="98.3" r="9.3" fill="#fff" stroke="#000"/><path d="M494.6 89.6A38.3 38.3 0 0 1 488.2 107A9.3 9.3 0 0 0 494.6 89.6M482.2 96.7A14.4 14.4 0 0 1 500.6 99.9A9.3 9.3 0 0 0 482.2 96.7" fill="#808080" fill-rule="evenodd" stroke="#000" stroke-width="0.7"/>
<circle cx="522.6" cy="83.2" r="9" fill="#fff" stroke="#000"/><path d="M524.2 74.3A73.2 73.2 0 0 1 521 92.1A9 9 0 0 0 524.2 74.3M513.9 80.9A37.1 37.1 0 0 1 531.3 85.5A9 9 0 0 0 513.9 80.9" fill="#808080" fill-rule="evenodd" stroke="#000" stroke-width="0.7"/>
<circle cx="508" cy="110" r="9" fill="#fff" stroke="#000"/><path d="M509.5 101.1A34.1 34.1 0 0 1 506.5 118.9A9 9 0 0 0 509.5 101.1M499.2 108A44.7 44.7 0 0 1 516.8 112A9 9 0 0 0 499.2 108" fill="#808080" fill-rule="evenodd" stroke="#000" stroke-width="0.7"/>
<circle cx="519" cy="111.7" r="9.5" fill="#fff" stroke="#000"/><path d="M522.2 102.8A39.1 39.1 0 0 1 515.8 120.6A9.5 9.5 0 0 0 522.2 102.8M509.6 110.1A17 17 0 0 1 528.4 113.3A9.5 9.5 0 0 0 509.6 110.1" fill="#808080" fill-rule="evenodd" stroke="#000" stroke-width="0.7"/>
<circle cx="527" cy="108" r="9" fill="#fff" stroke="#000"/><path d="M528.7 99.2A35.8 35.8 0 0 1 525.3 116.8A9 9 0 0 0 528.7 99.2M518.1 106.8A36.5 36.5 0 0 1 535.9 109.2A9 9 0 0 0 518.1 106.8" fill="#808080" fill-rule="evenodd" stroke="#000" stroke-width="0.7"/>
<circle cx="513.6" cy="102.8" r="12" fill="#fff" stroke="#000"/><path d="M517.7 91.5A97.6 97.6 0 0 1 509.5 114.1A12 12 0 0 0 517.7 91.5M502.3 98.7A49.4 49.4 0 0 1 524.9 106.9A12 12 0 0 0 502.3 98.7" fill="#808080" fill-rule="evenodd" stroke="#000" stroke-width="0.7"/>
<circle cx="497.6" cy="121.5" r="8.7" fill="#fff" stroke="#000"/><path d="M502 114A24.4 24.4 0 0 1 493.2 129A8.7 8.7 0 0 0 502 114M489 120A15.5 15.5 0 0 1 506.2 123A8.7 8.7 0 0 0 489 120" fill="#808080" fill-rule="evenodd" stroke="#000" stroke-width="0.7"/><rect x="491.3" y="121.5" width="2" height="2" fill="#000"/>
<circle cx="536" cy="106" r="8.5" fill="#fff" stroke="#000"/><path d="M537.2 97.6A30.6 30.6 0 0 1 534.8 114.4A8.5 8.5 0 0 0 537.2 97.6M527.6 104.7A40.4 40.4 0 0 1 544.4 107.3A8.5 8.5 0 0 0 527.6 104.7" fill="#808080" fill-rule="evenodd" stroke="#000" stroke-width="0.7"/>
<circle cx="546" cy="104" r="8.5" fill="#fff" stroke="#000"/><path d="M548.1 95.8A41.4 41.4 0 0 1 543.9 112.2A8.5 8.5 0 0 0 548.1 95.8M537.7 102.1A49.9 49.9 0 0 1 554.3 105.9A8.5 8.5 0 0 0 537.7 102.1" fill="#808080" fill-rule="evenodd" stroke="#000" stroke-width="0.7"/>
<circle cx="540.4" cy="98.3" r="7.5" fill="#fff" stroke="#000"/><path d="M543 91.3A30.9 30.9 0 0 1 537.8 105.3A7.5 7.5 0 0 0 543 91.3M533 97A11.6 11.6 0 0 1 547.8 99.6A7.5 7.5 0 0 0 533 97" fill="#808080" fill-rule="evenodd" stroke="#000" stroke-width="0.7"/>
<circle cx="548" cy="121" r="9" fill="#fff" stroke="#000"/><path d="M549.6 112.1A48.7 48.7 0 0 1 546.4 129.9A9 9 0 0 0 549.6 112.1M539.1 119.6A32.5 32.5 0 0 1 556.9 122.4A9 9 0 0 0 539.1 119.6" fill="#808080" fill-rule="evenodd" stroke="#000" stroke-width="0.7"/>
<circle cx="552.9" cy="111.7" r="9.3" fill="#fff" stroke="#000"/><path d="M556.1 103A75.7 75.7 0 0 1 549.7 120.4A9.3 9.3 0 0 0 556.1 103M544.2 108.5A38.3 38.3 0 0 1 561.6 114.9A9.3 9.3 0 0 0 544.2 108.5" fill="#808080" fill-rule="evenodd" stroke="#000" stroke-width="0.7"/>
<circle cx="542.2" cy="117" r="9.3" fill="#fff" stroke="#000"/><path d="M543.2 107.8A32.2 32.2 0 0 1 541.2 126.2A9.3 9.3 0 0 0 543.2 107.8M533 115.5A35 35 0 0 1 551.4 118.5A9.3 9.3 0 0 0 533 115.5" fill="#808080" fill-rule="evenodd" stroke="#000" stroke-width="0.7"/>
<circle cx="537" cy="124" r="9" fill="#fff" stroke="#000"/><path d="M538.3 115.1A33.8 33.8 0 0 1 535.7 132.9A9 9 0 0 0 538.3 115.1M528.1 122.4A38.6 38.6 0 0 1 545.9 125.6A9 9 0 0 0 528.1 122.4" fill="#808080" fill-rule="evenodd" stroke="#000" stroke-width="0.7"/>
<circle cx="531.5" cy="120.6" r="9.3" fill="#fff" stroke="#000"/><path d="M533.9 111.6A38.3 38.3 0 0 1 529.1 129.6A9.3 9.3 0 0 0 533.9 111.6M522.5 118.2A16.6 16.6 0 0 1 540.5 123A9.3 9.3 0 0 0 522.5 118.2" fill="#808080" fill-rule="evenodd" stroke="#000" stroke-width="0.7"/>
<circle cx="559.4" cy="142.9" r="10.7" fill="#fff" stroke="#000"/><path d="M560.3 132.2A44.1 44.1 0 0 1 558.5 153.6A10.7 10.7 0 0 0 560.3 132.2M548.8 141.6A23.1 23.1 0 0 1 570 144.2A10.7 10.7 0 0 0 548.8 141.6" fill="#808080" fill-rule="evenodd" stroke="#000" stroke-width="0.7"/><rect x="551.4" y="146.7" width="2" height="2" fill="#000"/>
<circle cx="580.1" cy="125.1" r="9.5" fill="#fff" stroke="#000"/><path d="M583.3 116.2A39.1 39.1 0 0 1 576.9 134A9.5 9.5 0 0 0 583.3 116.2M570.9 122.6A20.5 20.5 0 0 1 589.3 127.6A9.5 9.5 0 0 0 570.9 122.6" fill="#808080" fill-rule="evenodd" stroke="#000" stroke-width="0.7"/>
<circle cx="607.2" cy="144.3" r="9.8" fill="#fff" stroke="#000"/><path d="M609.2 134.7A23.2 23.2 0 0 1 605.2 153.9A9.8 9.8 0 0 0 609.2 134.7M597.5 142.6A14.5 14.5 0 0 1 616.9 146A9.8 9.8 0 0 0 597.5 142.6" fill="#808080" fill-rule="evenodd" stroke="#000" stroke-width="0.7"/><rect x="601.4" y="147.2" width="2" height="2" fill="#000"/>
</g>
<g>
<text x="33" y="153.8" font-size="13" text-anchor="middle" stroke-width="0.7">16</text><text x="38.5" y="153.8" font-size="13" text-anchor="middle" stroke-width="0.7">17</text><text x="51.8" y="157" font-size="13" text-anchor="middle">19</text><text x="58" y="162.5" font-size="13" text-anchor="middle" stroke-width="0.7">13</text><text x="63.7" y="162.5" font-size="13" text-anchor="middle">15</text><text x="69.3" y="187.3" font-size="13" text-anchor="middle">15</text><text x="112.4" y="213.2" font-size="13" text-anchor="middle">25</text><text x="129" y="208.2" font-size="13" text-anchor="middle">15</text><text x="154.4" y="184" font-size="13" text-anchor="middle">21</text><text x="188.6" y="181.5" font-size="13" text-anchor="middle">15</text><text x="226.8" y="195.8" font-size="13" text-anchor="middle">12</text><text x="230.4" y="201" font-size="13" text-anchor="middle">15</text><text x="277.2" y="200.3" font-size="13" text-anchor="middle">15</text><text x="365.8" y="301.4" font-size="13" text-anchor="middle">15</text><text x="343.5" y="289.5" font-size="13" text-anchor="middle">15</text><text x="429.3" y="56.4" font-size="13" text-anchor="middle">23</text><text x="437.3" y="68.9" font-size="13" text-anchor="middle">21</text><text x="411.6" y="63.3" font-size="13" text-anchor="middle">15</text><text x="523" y="72.6" font-size="13" text-anchor="middle">15</text><text x="491.4" y="85" font-size="13" text-anchor="middle">15</text><text x="506.5" y="82.4" font-size="13" text-anchor="middle">13</text><text x="500" y="83" font-size="13" text-anchor="middle">12</text><text x="512" y="85" font-size="13" text-anchor="middle">15</text><text x="542.6" y="89.5" font-size="13" text-anchor="middle">13</text><text x="548.4" y="97.5" font-size="13" text-anchor="middle">14</text><text x="554.6" y="102.9" font-size="13" text-anchor="middle">12</text><text x="534" y="102" font-size="13" text-anchor="middle">15</text><text x="560.4" y="129.7" font-size="13" text-anchor="middle">15</text><text x="580.9" y="112.7" font-size="13" text-anchor="middle">15</text><text x="607.6" y="131.4" font-size="13" text-anchor="middle">15</text><text x="158.8" y="193.1" font-size="13" text-anchor="middle" stroke-width="1.0">16</text><text x="161.3" y="194.7" font-size="13" text-anchor="middle" stroke-width="1.0">21</text><text x="159.8" y="195.5" font-size="13" text-anchor="middle" stroke-width="1.0">25</text><text x="162.5" y="193.3" font-size="13" text-anchor="middle" stroke-width="1.0">17</text><text x="165.9" y="196.5" font-size="13" text-anchor="middle" stroke-width="1.0">15</text><text x="163.4" y="194.3" font-size="13" text-anchor="middle" stroke-width="1.0">15</text><text x="168.4" y="195.2" font-size="13" text-anchor="middle" stroke-width="1.0">22</text><text x="167.6" y="193.3" font-size="13" text-anchor="middle" stroke-width="1.0">16</text><text x="170.6" y="199.3" font-size="13" text-anchor="middle" stroke-width="1.0">21</text><text x="171.4" y="195.3" font-size="13" text-anchor="middle" stroke-width="1.0">13</text><text x="171.2" y="198.6" font-size="13" text-anchor="middle" stroke-width="1.0">15</text><text x="173.3" y="200.2" font-size="13" text-anchor="middle" stroke-width="1.0">14</text><text x="171.3" y="200.3" font-size="13" text-anchor="middle" stroke-width="1.0">15</text><text x="176" y="197.6" font-size="13" text-anchor="middle" stroke-width="1.0">15</text><text x="176.5" y="198.6" font-size="13" text-anchor="middle" stroke-width="1.0">13</text><text x="177.5" y="200.5" font-size="13" text-anchor="middle" stroke-width="1.0">25</text><text x="179" y="198.5" font-size="13" text-anchor="middle" stroke-width="1.0">12</text><text x="178.2" y="204.1" font-size="13" text-anchor="middle" stroke-width="1.0">21</text><text x="179.8" y="200.3" font-size="13" text-anchor="middle" stroke-width="1.0">22</text><text x="179" y="202.7" font-size="13" text-anchor="middle" stroke-width="1.0">14</text><text x="181.6" y="202" font-size="13" text-anchor="middle" stroke-width="1.0">21</text><text x="183.7" y="202" font-size="13" text-anchor="middle" stroke-width="1.0">21</text><text x="182.7" y="203.6" font-size="13" text-anchor="middle" stroke-width="1.0">18</text><text x="185.2" y="201.9" font-size="13" text-anchor="middle" stroke-width="1.0">14</text><text x="189.3" y="206.2" font-size="13" text-anchor="middle" stroke-width="1.0">12</text><text x="187.3" y="206.8" font-size="13" text-anchor="middle" stroke-width="1.0">20</text><text x="188.3" y="203.6" font-size="13" text-anchor="middle" stroke-width="1.0">20</text><text x="191.9" y="206.1" font-size="13" text-anchor="middle" stroke-width="1.0">25</text><text x="190.5" y="209.3" font-size="13" text-anchor="middle" stroke-width="1.0">15</text><text x="194.9" y="205.4" font-size="13" text-anchor="middle" stroke-width="1.0">14</text><text x="196.6" y="207.5" font-size="13" text-anchor="middle" stroke-width="1.0">21</text><text x="194.1" y="207.5" font-size="13" text-anchor="middle" stroke-width="1.0">15</text><text x="198.6" y="207.4" font-size="13" text-anchor="middle" stroke-width="1.0">22</text><text x="197.7" y="208.4" font-size="13" text-anchor="middle" stroke-width="1.0">21</text><text x="198.9" y="213.3" font-size="13" text-anchor="middle" stroke-width="1.0">15</text><text x="202.3" y="209.2" font-size="13" text-anchor="middle" stroke-width="1.0">25</text><text x="199" y="209.1" font-size="13" text-anchor="middle" stroke-width="1.0">22</text><text x="200.6" y="209.8" font-size="13" text-anchor="middle" stroke-width="1.0">15</text><text x="202" y="212.7" font-size="13" text-anchor="middle" stroke-width="1.0">15</text><text x="206.6" y="215" font-size="13" text-anchor="middle" stroke-width="1.0">12</text><text x="208" y="213.1" font-size="13" text-anchor="middle" stroke-width="1.0">13</text><text x="207.8" y="214.8" font-size="13" text-anchor="middle" stroke-width="1.0">14</text><text x="205.9" y="216.2" font-size="13" text-anchor="middle" stroke-width="1.0">25</text><text x="211.1" y="218.7" font-size="13" text-anchor="middle" stroke-width="1.0">14</text><text x="208.9" y="213.4" font-size="13" text-anchor="middle" stroke-width="1.0">17</text><text x="209.6" y="216.4" font-size="13" text-anchor="middle" stroke-width="1.0">12</text><text x="213.1" y="219" font-size="13" text-anchor="middle" stroke-width="1.0">25</text><text x="213.3" y="219.9" font-size="13" text-anchor="middle" stroke-width="1.0">15</text><text x="242.6" y="217.3" font-size="13" text-anchor="middle" stroke-width="1.0">14</text><text x="242.7" y="221.5" font-size="13" text-anchor="middle" stroke-width="1.0">14</text><text x="244.2" y="221.7" font-size="13" text-anchor="middle" stroke-width="1.0">14</text><text x="244.8" y="223.3" font-size="13" text-anchor="middle" stroke-width="1.0">15</text><text x="249.9" y="224.5" font-size="13" text-anchor="middle" stroke-width="1.0">25</text><text x="247.9" y="223.7" font-size="13" text-anchor="middle" stroke-width="1.0">15</text><text x="250.7" y="229.1" font-size="13" text-anchor="middle" stroke-width="1.0">22</text><text x="252.8" y="227.5" font-size="13" text-anchor="middle" stroke-width="1.0">22</text><text x="252.5" y="231.6" font-size="13" text-anchor="middle" stroke-width="1.0">15</text><text x="255.7" y="230.1" font-size="13" text-anchor="middle" stroke-width="1.0">15</text><text x="259.7" y="233.2" font-size="13" text-anchor="middle" stroke-width="1.0">15</text><text x="260.7" y="236.6" font-size="13" text-anchor="middle" stroke-width="1.0">15</text><text x="263.4" y="232.8" font-size="13" text-anchor="middle" stroke-width="1.0">15</text><text x="265.7" y="239.2" font-size="13" text-anchor="middle" stroke-width="1.0">25</text><text x="266.2" y="240.2" font-size="13" text-anchor="middle" stroke-width="1.0">14</text><text x="263.8" y="239" font-size="13" text-anchor="middle" stroke-width="1.0">15</text><text x="222" y="221" font-size="13" text-anchor="middle" stroke-width="0.6">15</text><text x="229" y="222.5" font-size="13" text-anchor="middle" stroke-width="0.6">12</text><text x="225" y="225" font-size="13" text-anchor="middle" stroke-width="0.6">15</text><text x="245" y="218" font-size="13" text-anchor="middle" stroke-width="0.6">12</text><text x="253" y="218" font-size="13" text-anchor="middle" stroke-width="0.6">22</text><text x="262" y="218" font-size="13" text-anchor="middle" stroke-width="0.6">21</text><text x="280.4" y="244" font-size="13" text-anchor="middle" stroke-width="0.6">14</text><text x="291" y="248" font-size="13" text-anchor="middle" stroke-width="0.7">15</text><text x="296" y="251" font-size="13" text-anchor="middle" stroke-width="0.7">15</text><text x="299" y="252" font-size="13" text-anchor="middle" stroke-width="0.7">16</text><text x="311.2" y="261.2" font-size="13" text-anchor="middle" stroke-width="1.0">15</text><text x="312.9" y="261" font-size="13" text-anchor="middle" stroke-width="1.0">20</text><text x="315.1" y="260.7" font-size="13" text-anchor="middle" stroke-width="1.0">15</text><text x="316.7" y="259.2" font-size="13" text-anchor="middle" stroke-width="1.0">21</text><text x="317" y="260" font-size="13" text-anchor="middle" stroke-width="1.0">25</text><text x="317.5" y="259.8" font-size="13" text-anchor="middle" stroke-width="1.0">16</text><text x="321.3" y="260.8" font-size="13" text-anchor="middle" stroke-width="1.0">25</text><text x="324.5" y="265.4" font-size="13" text-anchor="middle" stroke-width="1.0">17</text><text x="325.3" y="261.9" font-size="13" text-anchor="middle" stroke-width="1.0">25</text><text x="326.6" y="264.9" font-size="13" text-anchor="middle" stroke-width="1.0">14</text><text x="327.2" y="262.4" font-size="13" text-anchor="middle" stroke-width="1.0">14</text><text x="330.8" y="265.5" font-size="13" text-anchor="middle" stroke-width="1.0">15</text><text x="332.3" y="266.4" font-size="13" text-anchor="middle" stroke-width="1.0">15</text><text x="332.5" y="267.2" font-size="13" text-anchor="middle" stroke-width="1.0">17</text><text x="408.3" y="68.5" font-size="13" text-anchor="middle" stroke-width="1.0">17</text><text x="412.2" y="68.6" font-size="13" text-anchor="middle" stroke-width="1.0">21</text><text x="413.1" y="69" font-size="13" text-anchor="middle" stroke-width="1.0">17</text><text x="417.7" y="69.9" font-size="13" text-anchor="middle" stroke-width="1.0">20</text><text x="417.7" y="69.5" font-size="13" text-anchor="middle" stroke-width="1.0">21</text><text x="422.7" y="71" font-size="13" text-anchor="middle" stroke-width="1.2">1</text><text x="422.7" y="78" font-size="13" text-anchor="middle" stroke-width="1.2">1</text><text x="497" y="83.2" font-size="13" text-anchor="middle" stroke-width="1.0">15</text><text x="498.8" y="84.3" font-size="13" text-anchor="middle" stroke-width="1.0">15</text><text x="502.2" y="84.7" font-size="13" text-anchor="middle" stroke-width="1.0">21</text><text x="508.6" y="86.4" font-size="13" text-anchor="middle" stroke-width="1.0">15</text><text x="512.1" y="84.8" font-size="13" text-anchor="middle" stroke-width="1.0">15</text><text x="512.8" y="87.4" font-size="13" text-anchor="middle" stroke-width="1.0">22</text>
</g>
<polygon fill="#ffff00" points="345.1,280.5 342.4,285.2 337,285.2 334.3,280.5 337,275.8 342.4,275.8"/>
<g font-size="16">
<text x="30.8" y="21.7" textLength="140.6" lengthAdjust="spacing">E201811152309A</text><text x="183.5" y="21.7" textLength="47.5" lengthAdjust="spacing">M=6.3</text><text x="245.5" y="21.7" textLength="18.9" lengthAdjust="spacing">h=</text><text x="276.4" y="21.7" textLength="19.6" lengthAdjust="spacing">10</text><text x="310" y="21.7" textLength="80" lengthAdjust="spacing">SOUTHERN</text><text x="402" y="21.7" textLength="37.5" lengthAdjust="spacing">EAST</text><text x="451.5" y="21.7" textLength="57.5" lengthAdjust="spacing">PACIFIC</text><text x="522" y="21.7" textLength="31.6" lengthAdjust="spacing">RISE</text>
</g>
<g font-size="15">
<text x="659.8" y="33.9" textLength="29.3" lengthAdjust="spacing">54S</text><text x="659.8" y="145.7" textLength="29.3" lengthAdjust="spacing">55S</text><text x="659.8" y="257.4" textLength="29.3" lengthAdjust="spacing">56S</text><text x="659.8" y="369.1" textLength="29.3" lengthAdjust="spacing">57S</text><text x="659.8" y="480.9" textLength="29.3" lengthAdjust="spacing">58S</text><text x="9.5" y="493.7" textLength="41" lengthAdjust="spacing">127W</text><text x="71.9" y="493.7" textLength="41" lengthAdjust="spacing">126W</text><text x="134.3" y="493.7" textLength="41" lengthAdjust="spacing">125W</text><text x="196.7" y="493.7" textLength="41" lengthAdjust="spacing">124W</text><text x="259.1" y="493.7" textLength="41" lengthAdjust="spacing">123W</text><text x="321.5" y="493.7" textLength="41" lengthAdjust="spacing">122W</text><text x="383.9" y="493.7" textLength="41" lengthAdjust="spacing">121W</text><text x="446.3" y="493.7" textLength="41" lengthAdjust="spacing">120W</text><text x="508.7" y="493.7" textLength="41" lengthAdjust="spacing">119W</text><text x="571.1" y="493.7" textLength="41" lengthAdjust="spacing">118W</text><text x="633.5" y="493.7" textLength="41" lengthAdjust="spacing">117W</text>
</g>
</svg>
</body></html>
